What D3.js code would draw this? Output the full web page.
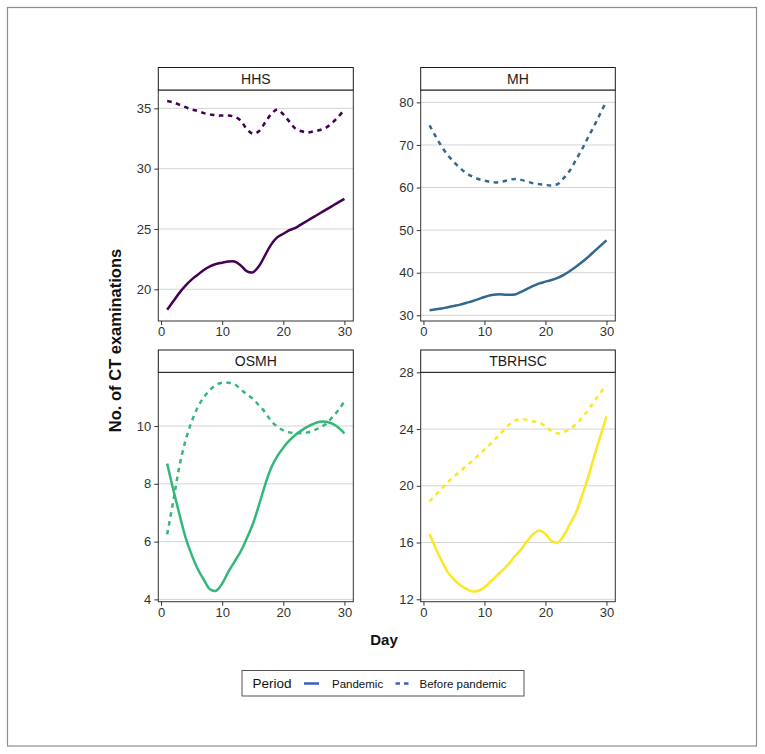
<!DOCTYPE html>
<html>
<head>
<meta charset="utf-8">
<script src="https://cdn.jsdelivr.net/npm/d3@7"></script>
<style>
  html, body { margin: 0; padding: 0; background: #fff; }
  svg { display: block; font-family: "Liberation Sans", Arial, Helvetica, sans-serif; }
</style>
</head>
<body>
<svg id="chart" width="765" height="754"></svg>
<script>
// ---------------- data ----------------
const days = [1,2,3,4,5,6,7,8,9,10,11,12,13,14,15,16,17,18,19,20,21,22,23,24,25,26,27,28,29,30];
const facets = ["HHS", "MH", "OSMH", "TBRHSC"];
const periods = ["Pandemic", "Before pandemic"];
const xTicks = [0, 10, 20, 30];

const hhsPandemic = [18.3,19.0,19.7,20.3,20.8,21.2,21.6,21.9,22.1,22.2,22.3,22.3,22.0,21.5,21.4,21.9,22.8,23.7,24.3,24.6,24.9,25.1,25.4,25.7,26.0,26.3,26.6,26.9,27.2,27.5];
const hhsBefore   = [35.6,35.5,35.3,35.1,34.9,34.8,34.6,34.5,34.4,34.4,34.4,34.3,34.0,33.3,32.9,33.1,33.8,34.5,34.9,34.5,33.9,33.3,33.1,33.0,33.1,33.2,33.4,33.8,34.3,34.9];
const mhPandemic  = [31.2,31.4,31.6,31.9,32.2,32.5,32.9,33.3,33.8,34.3,34.7,34.9,34.9,34.8,34.9,35.5,36.2,36.9,37.5,37.9,38.3,38.8,39.5,40.4,41.4,42.5,43.7,45.0,46.3,47.6];
const mhBefore    = [74.6,72.0,69.6,67.6,66.0,64.6,63.4,62.6,62.0,61.6,61.3,61.2,61.4,61.8,62.0,61.8,61.4,61.0,60.8,60.6,60.5,60.8,62.2,64.0,66.5,69.0,71.8,74.5,77.4,80.3];
const osmhPandemic = [8.70,7.80,6.95,6.15,5.55,5.05,4.68,4.35,4.30,4.55,4.95,5.30,5.65,6.10,6.60,7.25,7.95,8.55,8.95,9.25,9.50,9.70,9.85,9.98,10.08,10.15,10.15,10.08,9.95,9.75];
const osmhBefore   = [6.25,7.40,8.60,9.50,10.15,10.65,11.00,11.25,11.42,11.50,11.50,11.45,11.28,11.10,10.95,10.72,10.48,10.18,9.98,9.85,9.78,9.75,9.75,9.78,9.85,9.95,10.08,10.30,10.55,10.85];
const tbrPandemic = [16.6,15.6,14.7,13.9,13.4,13.0,12.75,12.55,12.6,12.85,13.25,13.65,14.05,14.5,15.05,15.5,16.1,16.6,16.85,16.6,16.1,16.0,16.5,17.3,18.1,19.3,20.6,22.1,23.5,24.9];
const tbrBefore   = [18.9,19.35,19.8,20.25,20.65,21.0,21.4,21.75,22.15,22.55,22.95,23.4,23.85,24.3,24.6,24.7,24.65,24.55,24.45,24.2,23.85,23.7,23.8,24.0,24.35,24.8,25.35,25.95,26.55,27.1];

const hhsTicks  = [20, 25, 30, 35];
const mhTicks   = [30, 40, 50, 60, 70, 80];
const osmhTicks = [4, 6, 8, 10];
const tbrTicks  = [12, 16, 20, 24, 28];

// ---------------- layout / style ----------------
const colors = { HHS: "#440154", MH: "#31688E", OSMH: "#35B779", TBRHSC: "#FDE725" };
const panelDefs = [
  { name: "HHS",    pandemic: hhsPandemic,  before: hhsBefore,  ticks: hhsTicks,  yDomain: [17.37, 36.52], x0: 158.3, x1: 353.3, sTop: 67.5,  pTop: 90,    pBot: 321 },
  { name: "MH",     pandemic: mhPandemic,   before: mhBefore,   ticks: mhTicks,   yDomain: [28.66, 82.9],  x0: 420.7, x1: 615.3, sTop: 67.5,  pTop: 90,    pBot: 321 },
  { name: "OSMH",   pandemic: osmhPandemic, before: osmhBefore, ticks: osmhTicks, yDomain: [3.92, 11.86],  x0: 158.3, x1: 353.3, sTop: 350,   pTop: 372.3, pBot: 601.7 },
  { name: "TBRHSC", pandemic: tbrPandemic,  before: tbrBefore,  ticks: tbrTicks,  yDomain: [11.83, 28.0],  x0: 420.7, x1: 615.3, sTop: 350,   pTop: 372.3, pBot: 601.7 }
];

const svg = d3.select("#chart");

// outer frame
svg.append("rect").attr("x", 7.5).attr("y", 7.5).attr("width", 749).attr("height", 738.5)
  .attr("fill", "#fff").attr("stroke", "#8c8c8c").attr("stroke-width", 1.2);

panelDefs.forEach(p => {
  const g = svg.append("g");
  const x = d3.scaleLinear().domain([-0.45, 31.45]).range([p.x0, p.x1]);
  const y = d3.scaleLinear().domain(p.yDomain).range([p.pBot, p.pTop]);

  // gridlines
  g.selectAll(".grid").data(p.ticks.filter(t => t >= p.yDomain[0] && t <= p.yDomain[1] + 0.01))
    .enter().append("line")
    .attr("x1", p.x0).attr("x2", p.x1)
    .attr("y1", d => y(d)).attr("y2", d => y(d))
    .attr("stroke", "#d4d4d4").attr("stroke-width", 1);

  // lines
  const line = d3.line().x((d, i) => x(days[i])).y(d => y(d)).curve(d3.curveCatmullRom.alpha(0.5));
  g.append("path").attr("d", line(p.before))
    .attr("fill", "none").attr("stroke", colors[p.name]).attr("stroke-width", 2.5)
    .attr("stroke-dasharray", "4.5,4.5");
  g.append("path").attr("d", line(p.pandemic))
    .attr("fill", "none").attr("stroke", colors[p.name]).attr("stroke-width", 2.5);

  // panel border
  g.append("rect").attr("x", p.x0).attr("y", p.pTop).attr("width", p.x1 - p.x0).attr("height", p.pBot - p.pTop)
    .attr("fill", "none").attr("stroke", "#333").attr("stroke-width", 1);

  // strip
  g.append("rect").attr("x", p.x0).attr("y", p.sTop).attr("width", p.x1 - p.x0).attr("height", p.pTop - p.sTop)
    .attr("fill", "#fff").attr("stroke", "#1a1a1a").attr("stroke-width", 1);
  g.append("text").attr("x", (p.x0 + p.x1) / 2).attr("y", (p.sTop + p.pTop) / 2 + 5)
    .attr("text-anchor", "middle").attr("font-size", 14).attr("fill", "#1a1a1a").text(p.name);

  // y axis
  const yAxis = d3.axisLeft(y).tickValues(p.ticks).tickSize(4).tickPadding(3);
  const ya = g.append("g").attr("transform", `translate(${p.x0},0)`).call(yAxis);
  ya.select(".domain").remove();
  ya.selectAll("line").attr("stroke", "#333");
  ya.selectAll("text").attr("font-size", 13).attr("fill", "#333")
    .attr("font-family", "'Liberation Sans', Arial, Helvetica, sans-serif");

  // x axis
  const xAxis = d3.axisBottom(x).tickValues(xTicks).tickSize(4).tickPadding(2).tickFormat(d3.format("d"));
  const xa = g.append("g").attr("transform", `translate(0,${p.pBot})`).call(xAxis);
  xa.select(".domain").remove();
  xa.selectAll("line").attr("stroke", "#333");
  xa.selectAll("text").attr("font-size", 13).attr("fill", "#333")
    .attr("font-family", "'Liberation Sans', Arial, Helvetica, sans-serif");
});

// axis titles
svg.append("text").attr("transform", "translate(121,340.5) rotate(-90)")
  .attr("text-anchor", "middle").attr("font-size", 16.5).attr("font-weight", "bold").attr("fill", "#111")
  .text("No. of CT examinations");
svg.append("text").attr("x", 384).attr("y", 645)
  .attr("text-anchor", "middle").attr("font-size", 15).attr("font-weight", "bold").attr("fill", "#111")
  .text("Day");

// legend
const lg = svg.append("g");
lg.append("rect").attr("x", 242).attr("y", 670.5).attr("width", 282).attr("height", 25.5)
  .attr("fill", "#fff").attr("stroke", "#555").attr("stroke-width", 1);
lg.append("text").attr("x", 252.5).attr("y", 688).attr("font-size", 13.5).attr("fill", "#111").text("Period");
const legendItems = [
  { label: periods[0], dash: null, lx: 304, tx: 332 },
  { label: periods[1], dash: "4.5,4", lx: 395.5, tx: 419.5 }
];
legendItems.forEach(it => {
  lg.append("line").attr("x1", it.lx).attr("x2", it.lx + 15).attr("y1", 683.5).attr("y2", 683.5)
    .attr("stroke", "#3b5fc0").attr("stroke-width", 2.5).attr("stroke-dasharray", it.dash);
  lg.append("text").attr("x", it.tx).attr("y", 687.5).attr("font-size", 11.5).attr("fill", "#111").text(it.label);
});
</script>
</body>
</html>
